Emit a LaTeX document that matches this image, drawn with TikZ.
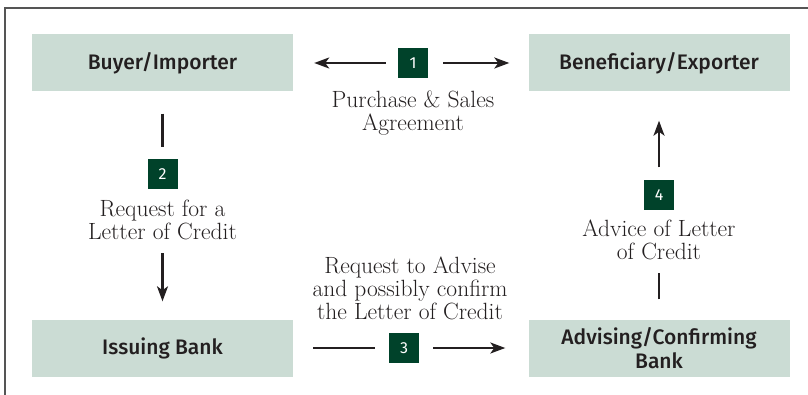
\documentclass[tikz,border=0pt]{standalone}
\usepackage{fontspec}
\setsansfont{Fira Sans}[UprightFont={* Medium}]
\newfontfamily\badgefont{Fira Sans}
\usetikzlibrary{arrows.meta}
\definecolor{boxfill}{HTML}{CBDCD4}
\definecolor{badgefill}{HTML}{00422A}
\definecolor{framegray}{HTML}{555555}
\definecolor{ink}{HTML}{231F20}
\begin{document}
\begin{tikzpicture}[x=1pt,y=-1pt,
  party/.style={fill=boxfill, minimum width=261pt, minimum height=57pt, inner sep=0pt,
    font=\sffamily\fontsize{21}{24}\selectfont, text=ink, align=center},
  badge/.style={fill=badgefill, minimum size=30pt, inner sep=0pt, text=white,
    font=\badgefont\fontsize{16}{16}\selectfont},
  lbl/.style={font=\fontsize{23.5}{23}\selectfont, text=ink, align=center, inner sep=0pt},
  arr/.style={draw=ink, line width=2.2pt, -{Stealth[length=15pt,width=11pt,inset=4pt]}},
  ln/.style={draw=ink, line width=2.2pt}]
\useasboundingbox (0,0) rectangle (808,395);
\draw[framegray, line width=2pt] (808,8.5) -- (4.5,8.5) -- (4.5,395);

\node[party] (buyer) at (162.5,63) {Buyer/Importer};
\node[party] (benef) at (659,63) {Beneficiary/Exporter};
\node[party] (issuing) at (162.5,348) {Issuing Bank};
\node[party] (advising) at (659,348) {Advising/Confirming\\Bank};

\node[badge] (b1) at (413,63) {1};
\node[badge] (b2) at (162.5,174.5) {2};
\node[badge] (b3) at (404,348) {3};
\node[badge] (b4) at (659,195.5) {4};

\node[lbl] (t1) at (413,113) {Purchase \& Sales\\Agreement};
\node[lbl] (t2) at (162.5,220) {Request for a\\Letter of Credit};
\node[lbl] (t3) at (410,288) {Request to Advise\\and possibly confirm\\the Letter of Credit};
\node[lbl] (t4) at (659,240) {Advice of Letter\\of Credit};

\draw[arr, shorten <=12pt, shorten >=21pt] (b1) -- (buyer);
\draw[arr, shorten <=15pt, shorten >=19pt] (b1) -- (benef);
\draw[ln, shorten <=22pt, shorten >=12pt] (buyer) -- (b2);
\draw[arr, shorten <=13pt, shorten >=18pt] (t2) -- (issuing);
\draw[ln, shorten <=20pt, shorten >=14pt] (issuing) -- (b3);
\draw[arr, shorten <=14pt, shorten >=23pt] (b3) -- (advising);
\draw[ln, shorten <=20pt, shorten >=13pt] (advising) -- (t4);
\draw[arr, shorten <=13pt, shorten >=29pt] (b4) -- (benef);
\end{tikzpicture}
\end{document}
